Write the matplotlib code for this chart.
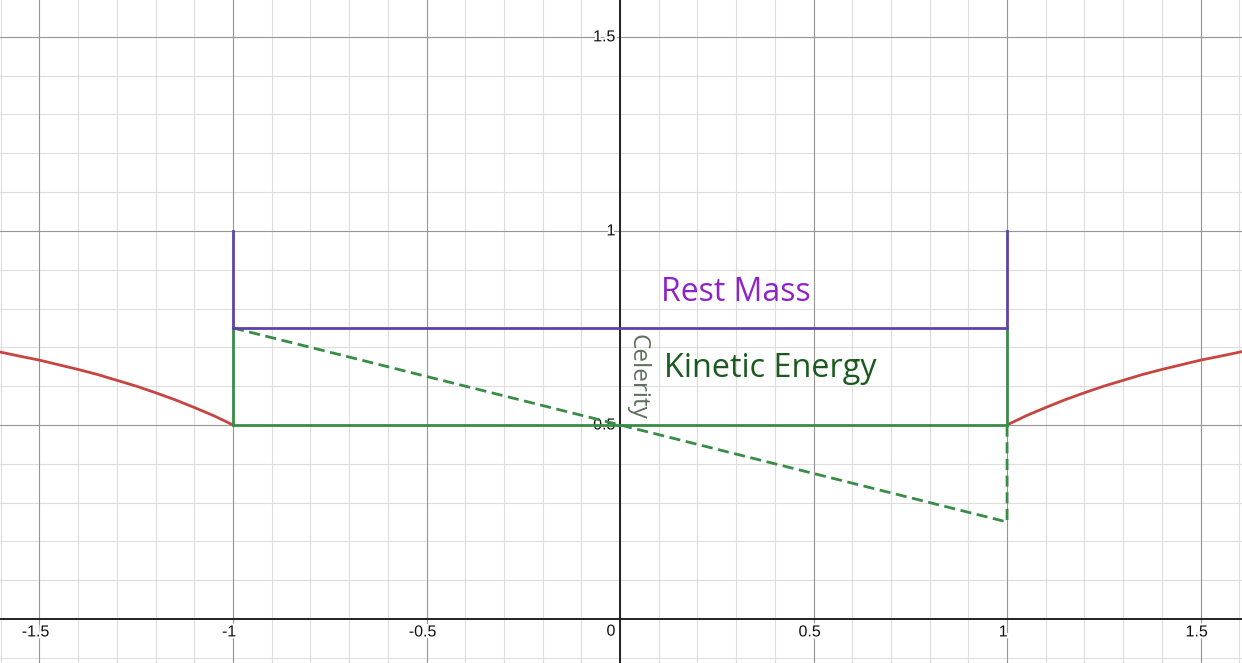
import matplotlib
matplotlib.use("Agg")
import matplotlib.pyplot as plt
import matplotlib.patheffects as pe
import numpy as np

# red curves (right branch; left branch is its mirror)
curve_x = [1.0, 1.05, 1.1, 1.15, 1.2, 1.25, 1.3, 1.35, 1.4, 1.45, 1.5, 1.55, 1.6, 1.65]
curve_y = [0.5, 0.524, 0.545, 0.565, 0.583, 0.6, 0.615, 0.63, 0.643, 0.655, 0.667, 0.677, 0.6875, 0.697]

# boxes
rest_y = [0.75, 1.0]
kin_y = [0.5, 0.75]
box_x = [-1, 1]
celerity_x = [-1, 1, 1]
celerity_y = [0.75, 0.25, 0.5]

x_ticks = [-1.5, -1, -0.5, 0, 0.5, 1, 1.5]
x_labels = ["-1.5", "-1", "-0.5", "0", "0.5", "1", "1.5"]
y_ticks = [0.5, 1, 1.5]
y_labels = ["0.5", "1", "1.5"]

red = "#c74440"
green = "#388c46"
purple = "#6042a6"

fig = plt.figure(figsize=(12.42, 6.63), dpi=100)
ax = fig.add_axes([0, 0, 1, 1])
ax.set_xlim(-1.602, 1.607)
ax.set_ylim(-0.1134, 1.595)
ax.axis("off")

# grid
for v in np.arange(-1.6, 1.61, 0.1):
    ax.axvline(v, color="#dddddd", lw=0.8, zorder=0)
for v in np.arange(-0.1, 1.61, 0.1):
    ax.axhline(v, color="#dddddd", lw=0.8, zorder=0)
for v in x_ticks:
    ax.axvline(v, color="#969696", lw=0.8, zorder=1)
for v in [0.5, 1, 1.5]:
    ax.axhline(v, color="#969696", lw=0.8, zorder=1)
ax.axhline(0, color="#222222", lw=1.4, zorder=2)
ax.axvline(0, color="#222222", lw=1.4, zorder=2)

outline = [pe.withStroke(linewidth=3, foreground="white")]
for v, s in zip(x_ticks, x_labels):
    if v == 0:
        ax.text(-0.012, -0.012, s, ha="right", va="top", fontsize=11.5,
                family="Liberation Sans", color="#111111", path_effects=outline, zorder=3)
    else:
        ax.text(v - 0.01, -0.014, s, ha="center", va="top", fontsize=11.5,
                family="Liberation Sans", color="#111111", path_effects=outline, zorder=3)
for v, s in zip(y_ticks, y_labels):
    ax.text(-0.012, v, s, ha="right", va="center", fontsize=11.5,
            family="Liberation Sans", color="#111111", path_effects=outline, zorder=3)

lw = 2.0
# red curves
cx = np.array(curve_x)
cy = np.array(curve_y)
ax.plot(cx, cy, color=red, lw=lw, zorder=4)
ax.plot(-cx, cy, color=red, lw=lw, zorder=4)

# kinetic energy box (green)
ax.plot(box_x, [kin_y[0]] * 2, color=green, lw=lw, zorder=4)
for bx in box_x:
    ax.plot([bx, bx], kin_y, color=green, lw=lw, zorder=4)

# rest mass box (purple)
ax.plot(box_x, [rest_y[0]] * 2, color=purple, lw=lw, zorder=5)
for bx in box_x:
    ax.plot([bx, bx], rest_y, color=purple, lw=lw, zorder=4)

# celerity dashed
ax.plot(celerity_x, celerity_y, color=green, lw=lw, ls=(0, (4, 2)), zorder=4)

ax.text(0.106, 0.842, "Rest Mass", color="#8e24c8", fontsize=23,
        family="Open Sans", ha="left", va="center", zorder=6)
ax.text(0.114, 0.645, "Kinetic Energy", color="#1a5a1e", fontsize=23.3,
        family="Open Sans", ha="left", va="center", zorder=6)
ax.text(0.044, 0.624, "Celerity", color="#5e6f5e", fontsize=17.5,
        family="Open Sans", rotation=-90, ha="center", va="center", zorder=6)

fig.savefig("out.png", dpi=100)
